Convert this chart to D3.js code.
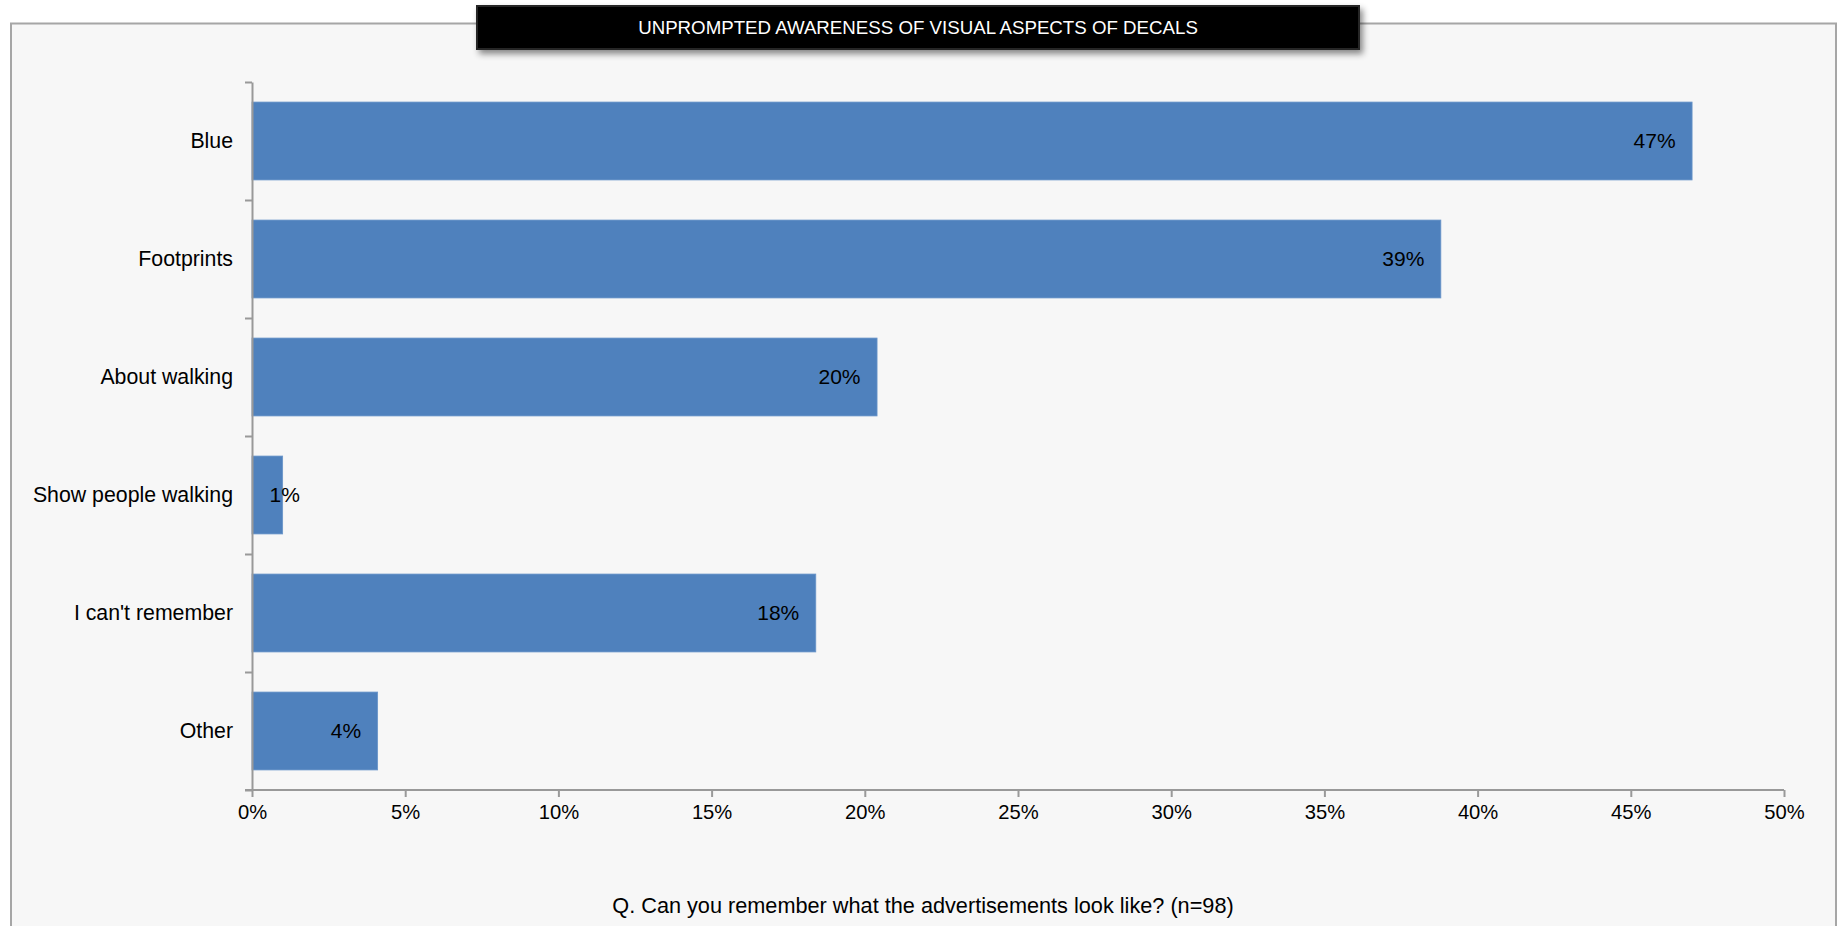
<!DOCTYPE html>
<html>
<head>
<meta charset="utf-8">
<script src="https://cdn.jsdelivr.net/npm/d3@7"></script>
<style>
  html, body { margin: 0; padding: 0; background: #ffffff; }
  svg { display: block; font-family: "Liberation Sans", Arial, sans-serif; }
</style>
</head>
<body>
<svg id="chart" width="1839" height="926"></svg>
<script>
// Survey answers and their shares of respondents (%)
const categories = ["Blue", "Footprints", "About walking", "Show people walking", "I can't remember", "Other"];
const shares = [47.0, 38.8, 20.4, 1.0, 18.4, 4.1];
const xTicks = [0, 5, 10, 15, 20, 25, 30, 35, 40, 45, 50];

const titleText = "UNPROMPTED AWARENESS OF VISUAL ASPECTS OF DECALS";
const questionText = "Q. Can you remember what the advertisements look like? (n=98)";

const W = 1839, H = 926;
const plot = { left: 252, right: 1784, top: 82, bottom: 790 };
const axisColor = "#999999";
const barColor = "#4f81bd";

const svg = d3.select("#chart");

// drop shadow for the title plate
const defs = svg.append("defs");
const shadow = defs.append("filter").attr("id", "plateShadow")
  .attr("x", "-5%").attr("y", "-40%").attr("width", "110%").attr("height", "200%");
shadow.append("feDropShadow").attr("dx", 3).attr("dy", 4).attr("stdDeviation", 3)
  .attr("flood-color", "#000").attr("flood-opacity", 0.45);

// chart frame
svg.append("rect")
  .attr("x", 11).attr("y", 23.5).attr("width", 1825).attr("height", 920)
  .attr("fill", "#f7f7f7").attr("stroke", "#a6a6a6").attr("stroke-width", 2);

// scales
const x = d3.scaleLinear().domain([0, 50]).range([plot.left, plot.right]);
const y = d3.scaleBand().domain(categories).range([plot.top, plot.bottom])
  .paddingInner(0.34).paddingOuter(0.17);
const yEdges = d3.scaleLinear().domain([0, categories.length]).range([plot.top, plot.bottom]);

// bars
svg.append("g").selectAll("rect")
  .data(categories)
  .join("rect")
  .attr("x", x(0))
  .attr("y", d => y(d))
  .attr("width", (d, i) => x(shares[i]) - x(0))
  .attr("height", y.bandwidth())
  .attr("fill", barColor)
  .attr("stroke", "#6a95c9").attr("stroke-width", 0.8);

// x axis
const xAxis = svg.append("g")
  .attr("transform", `translate(0,${plot.bottom})`)
  .call(d3.axisBottom(x).tickValues(xTicks).tickFormat(d => d + "%").tickSizeInner(7).tickSizeOuter(0).tickPadding(8));
xAxis.select(".domain").attr("stroke", axisColor).attr("stroke-width", 2)
  .attr("d", `M${plot.left - 7},0H${plot.right}`);
xAxis.selectAll(".tick line").attr("stroke", axisColor).attr("stroke-width", 2);
xAxis.selectAll(".tick text").attr("fill", "#000").attr("font-size", 20.2)
  .attr("font-family", "Liberation Sans, Arial, sans-serif");

// y axis: tick marks on category boundaries
const yAxis = svg.append("g")
  .attr("transform", `translate(${plot.left},0)`)
  .call(d3.axisLeft(yEdges).tickValues(d3.range(categories.length + 1)).tickFormat("").tickSizeInner(7).tickSizeOuter(0));
yAxis.select(".domain").attr("stroke", axisColor).attr("stroke-width", 2);
yAxis.selectAll(".tick line").attr("stroke", axisColor).attr("stroke-width", 2);

// category labels
svg.append("g").selectAll("text")
  .data(categories)
  .join("text")
  .attr("x", plot.left - 19)
  .attr("y", d => y(d) + y.bandwidth() / 2)
  .attr("dy", "0.35em")
  .attr("text-anchor", "end")
  .attr("font-size", 21.3)
  .attr("fill", "#000")
  .text(d => d);

// value labels at the inside end of each bar
const fmt = v => d3.format(".0f")(v) + "%";
const valueLabels = svg.append("g").selectAll("text")
  .data(categories)
  .join("text")
  .attr("y", d => y(d) + y.bandwidth() / 2)
  .attr("dy", "0.35em")
  .attr("text-anchor", "end")
  .attr("font-size", 21)
  .attr("fill", "#000")
  .text((d, i) => fmt(shares[i]));
valueLabels.each(function (d, i) {
  const w = this.getComputedTextLength();
  const end = Math.max(x(shares[i]) - 16.5, x(0) + 17.5 + w);
  d3.select(this).attr("x", end);
});

// title plate
svg.append("rect")
  .attr("x", 477).attr("y", 6).attr("width", 882).attr("height", 43)
  .attr("fill", "#000").attr("stroke", "#262626").attr("stroke-width", 2)
  .attr("filter", "url(#plateShadow)");
svg.append("text")
  .attr("x", 918).attr("y", 27.5)
  .attr("dy", "0.35em")
  .attr("text-anchor", "middle")
  .attr("font-size", 18.7)
  .attr("fill", "#ffffff")
  .text(titleText);

// question caption
svg.append("text")
  .attr("x", 923).attr("y", 905)
  .attr("dy", "0.35em")
  .attr("text-anchor", "middle")
  .attr("font-size", 21.7)
  .attr("fill", "#000")
  .text(questionText);
</script>
</body>
</html>
